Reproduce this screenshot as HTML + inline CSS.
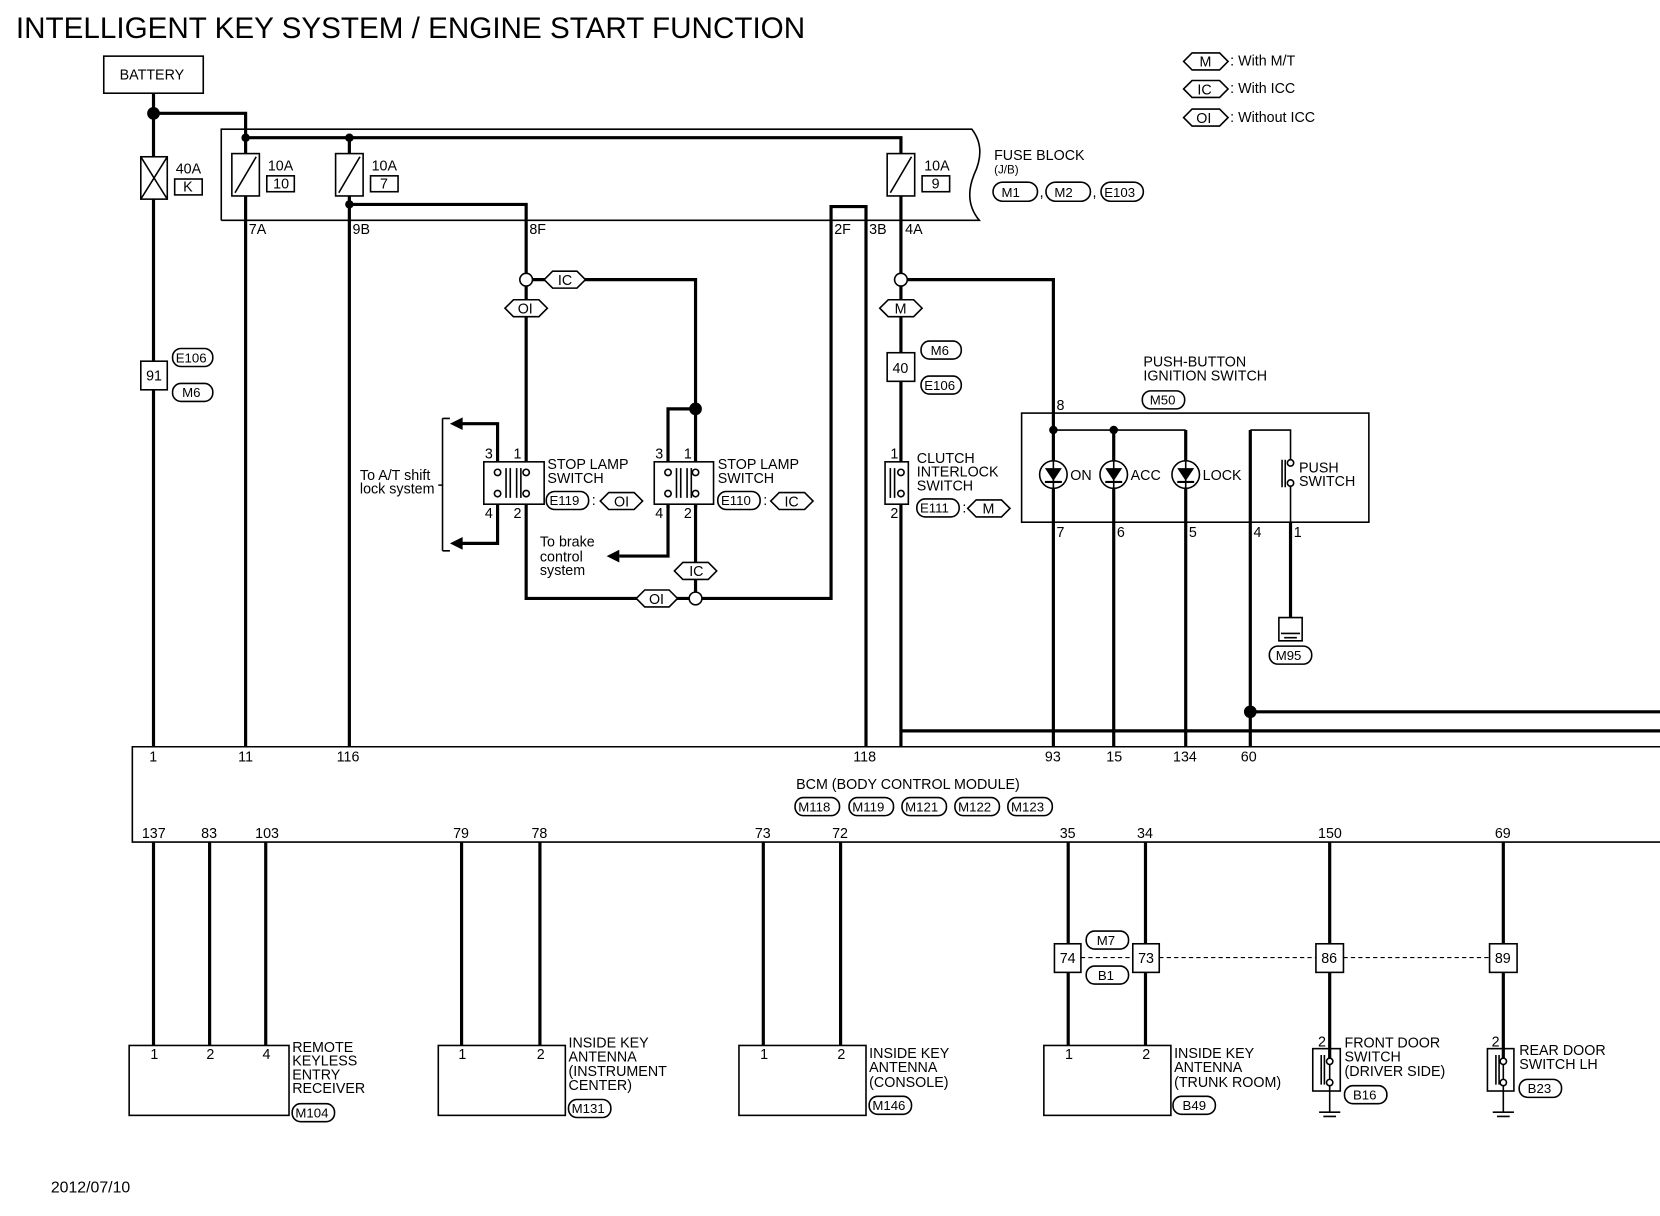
<!DOCTYPE html>
<html><head><meta charset="utf-8"><style>
html,body{margin:0;padding:0;background:#fff}
svg{display:block}
text{font-family:"Liberation Sans",sans-serif;fill:#000}
</style></head><body>
<svg width="1660" height="1216" viewBox="0 0 1568 1148" preserveAspectRatio="none" xmlns="http://www.w3.org/2000/svg">
<g font-size="13.5">
<text x="15" y="36" font-size="28">INTELLIGENT KEY SYSTEM / ENGINE START FUNCTION</text>
<!-- legend -->
<g stroke="#000" stroke-width="1.5" fill="none">
<polygon points="1118,58 1126,50 1152,50 1160,58 1152,66 1126,66"/>
<polygon points="1118,84 1126,76 1152,76 1160,84 1152,92 1126,92"/>
<polygon points="1118,111 1126,103 1152,103 1160,111 1152,119 1126,119"/>
</g>
<text x="1133" y="63">M</text><text x="1131" y="89">IC</text><text x="1130" y="116">OI</text>
<text x="1162" y="62">: With M/T</text><text x="1162" y="88">: With ICC</text><text x="1162" y="115">: Without ICC</text>

<!-- battery -->
<rect x="98" y="53" width="94" height="35" fill="none" stroke="#000" stroke-width="1.5"/>
<text x="113" y="75">BATTERY</text>

<g stroke="#000" stroke-width="3" fill="none">
<path d="M145,88 V705"/>
<path d="M145,107 H232 V130"/>
<path d="M232,130 V705"/>
<path d="M330,130 V705"/>
<path d="M232,130 H851 V705"/>
<path d="M330,193 H497 V565 H785 V195 H818 V705"/>
<path d="M503,264 H657 V480"/>
<path d="M657,386 H631 V480"/>
<path d="M657,476 V565"/>
<path d="M631,476 V525 H585"/>
<path d="M470,436 V400 H435"/>
<path d="M470,476 V513 H435"/>
<path d="M857,264 H995 V705"/>
<path d="M1052,406 V705"/>
<path d="M1120,406 V705"/>
<path d="M1181,406 V705"/>
<path d="M851,690 H1568"/>
<path d="M1181,672 H1568"/>
<path d="M1219,493 V583"/>
<path d="M145,795 V987 M198,795 V987 M251,795 V987"/>
<path d="M436,795 V987 M510,795 V987"/>
<path d="M721,795 V987 M794,795 V987"/>
<path d="M1009,795 V987 M1082,795 V987"/>
<path d="M1256,795 V1000 M1420,795 V1000"/>
</g>
<!-- arrows -->
<g fill="#000">
<polygon points="425,400 437,394 437,406"/>
<polygon points="425,513 437,507 437,519"/>
<polygon points="573,525 585,519 585,531"/>
<circle cx="145" cy="107" r="6"/>
<circle cx="232" cy="130" r="4"/><circle cx="330" cy="130" r="4"/><circle cx="330" cy="193" r="4"/>
<circle cx="657" cy="386" r="6"/>
<circle cx="995" cy="406" r="4"/><circle cx="1052" cy="406" r="4"/>
<circle cx="1181" cy="672" r="6"/>
</g>
<g stroke="#000" stroke-width="1.5" fill="#fff">
<circle cx="497" cy="264" r="6"/><circle cx="851" cy="264" r="6"/><circle cx="657" cy="565" r="6"/>
</g>
<!-- fuse block -->
<g stroke="#000" stroke-width="1.5" fill="none">
<path d="M209,208 V122 H918 Q932,140 920,165 Q910,190 925,208 H209"/>
<path d="M418,395 V520 M418,395 H425 M418,520 H425 M418,458 H414"/>
</g>
<g stroke="#000" stroke-width="1.5" fill="#fff">
<rect x="133" y="148" width="25" height="40"/>
<rect x="219" y="145" width="26" height="40"/>
<rect x="317" y="145" width="26" height="40"/>
<rect x="838" y="145" width="26" height="40"/>
<rect x="165" y="169" width="26" height="15"/><rect x="252" y="166" width="26" height="15"/><rect x="350" y="166" width="26" height="15"/><rect x="871" y="166" width="26" height="15"/>
</g>
<g stroke="#000" stroke-width="1.5">
<path d="M133,148 L158,188 M158,148 L133,188"/>
<path d="M222,182 L242,148 M320,182 L340,148 M841,182 L861,148"/>
</g>
<text x="166" y="164">40A</text><text x="173" y="181">K</text>
<text x="253" y="161">10A</text><text x="258" y="178">10</text>
<text x="351" y="161">10A</text><text x="359" y="178">7</text>
<text x="873" y="161">10A</text><text x="880" y="178">9</text>
<text x="939" y="151">FUSE BLOCK</text><text x="939" y="164" font-size="11">(J/B)</text>
<text x="235" y="221">7A</text><text x="333" y="221">9B</text><text x="500" y="221">8F</text>
<text x="788" y="221">2F</text><text x="821" y="221">3B</text><text x="855" y="221">4A</text>

<!-- pill connectors -->
<g stroke="#000" stroke-width="1.5" fill="none">
<rect x="938" y="172" width="42" height="18" rx="9"/><rect x="988" y="172" width="42" height="18" rx="9"/><rect x="1040" y="172" width="40" height="18" rx="9"/>
<rect x="163" y="329" width="38" height="17" rx="8"/><rect x="163" y="362" width="38" height="17" rx="8"/>
<rect x="870" y="322" width="38" height="17" rx="8"/><rect x="870" y="355" width="38" height="17" rx="8"/>
<rect x="516" y="464" width="40" height="17" rx="8"/><rect x="678" y="464" width="40" height="17" rx="8"/>
<rect x="866" y="471" width="40" height="17" rx="8"/>
<rect x="1079" y="369" width="40" height="17" rx="8"/>
<rect x="1199" y="610" width="40" height="17" rx="8"/>
<rect x="751" y="753" width="42" height="17" rx="8"/><rect x="802" y="753" width="42" height="17" rx="8"/><rect x="852" y="753" width="42" height="17" rx="8"/><rect x="902" y="753" width="42" height="17" rx="8"/><rect x="952" y="753" width="42" height="17" rx="8"/>
<rect x="1026" y="879" width="40" height="17" rx="8"/><rect x="1026" y="912" width="40" height="17" rx="8"/>
<rect x="276" y="1042" width="40" height="17" rx="8"/><rect x="537" y="1038" width="40" height="17" rx="8"/><rect x="821" y="1035" width="40" height="17" rx="8"/><rect x="1108" y="1035" width="40" height="17" rx="8"/>
<rect x="1270" y="1025" width="40" height="17" rx="8"/><rect x="1435" y="1019" width="40" height="17" rx="8"/>
</g>
<g font-size="12.5">
<text x="946" y="186">M1</text><text x="996" y="186">M2</text><text x="1043" y="186">E103</text>
<text x="166" y="342">E106</text><text x="172" y="375">M6</text>
<text x="879" y="335">M6</text><text x="873" y="368">E106</text>
<text x="519" y="477">E119</text><text x="681" y="477">E110</text><text x="869" y="484">E111</text>
<text x="1086" y="382">M50</text><text x="1205" y="623">M95</text>
<text x="754" y="766">M118</text><text x="805" y="766">M119</text><text x="855" y="766">M121</text><text x="905" y="766">M122</text><text x="955" y="766">M123</text>
<text x="1036" y="892">M7</text><text x="1037" y="925">B1</text>
<text x="279" y="1055">M104</text><text x="540" y="1051">M131</text><text x="824" y="1048">M146</text><text x="1117" y="1048">B49</text>
<text x="1278" y="1038">B16</text><text x="1443" y="1032">B23</text>
</g>
<text x="559" y="477">:</text><text x="721" y="477">:</text><text x="909" y="484">:</text>
<text x="982" y="186">,</text><text x="1032" y="186">,</text>
<!-- hex connectors -->
<g stroke="#000" stroke-width="1.5" fill="#fff">
<polygon points="514,264 522,256 545,256 553,264 545,272 522,272"/>
<polygon points="477,291 485,283 509,283 517,291 509,299 485,299"/>
<polygon points="831,291 839,283 863,283 871,291 863,299 839,299"/>
<polygon points="637,539 645,531 669,531 677,539 669,547 645,547"/>
<polygon points="601,565 609,557 632,557 640,565 632,573 609,573"/>
<polygon points="567,473 575,465 599,465 607,473 599,481 575,481"/>
<polygon points="728,473 736,465 760,465 768,473 760,481 736,481"/>
<polygon points="914,480 922,472 946,472 954,480 946,488 922,488"/>
</g>
<text x="527" y="269">IC</text><text x="489" y="296">OI</text><text x="845" y="296">M</text><text x="651" y="544">IC</text><text x="613" y="570">OI</text>
<text x="580" y="478">OI</text><text x="741" y="478">IC</text><text x="928" y="485">M</text>

<!-- number boxes -->
<g stroke="#000" stroke-width="1.5" fill="#fff">
<rect x="133" y="341" width="25" height="27"/><rect x="838" y="333" width="26" height="27"/>
<rect x="996" y="891" width="25" height="27"/><rect x="1070" y="891" width="25" height="27"/>
<rect x="1243" y="891" width="26" height="27"/><rect x="1407" y="891" width="26" height="27"/>
</g>
<text x="138" y="359">91</text><text x="843" y="352">40</text>
<text x="1001" y="909">74</text><text x="1075" y="909">73</text><text x="1248" y="909">86</text><text x="1412" y="909">89</text>
<path d="M1021,904 H1070 M1095,904 H1243 M1269,904 H1407" stroke="#000" stroke-width="1" stroke-dasharray="4,3"/>

<!-- stop lamp switches -->
<g stroke="#000" stroke-width="1.5" fill="#fff">
<rect x="457" y="436" width="57" height="40"/>
<rect x="618" y="436" width="56" height="40"/>
<rect x="836" y="436" width="22" height="40"/>
</g>
<g stroke="#000" stroke-width="1.5" fill="#fff">
<path d="M478,442 V470 M482,442 V470 M488,442 V470 M492,442 V470" />
<path d="M639,442 V470 M643,442 V470 M649,442 V470 M653,442 V470"/>
<path d="M841,442 V470 M845,442 V470"/>
<circle cx="470" cy="446" r="3"/><circle cx="470" cy="466" r="3"/><circle cx="497" cy="446" r="3"/><circle cx="497" cy="466" r="3"/>
<circle cx="631" cy="446" r="3"/><circle cx="631" cy="466" r="3"/><circle cx="657" cy="446" r="3"/><circle cx="657" cy="466" r="3"/>
<circle cx="851" cy="446" r="3"/><circle cx="851" cy="466" r="3"/>
</g>
<text x="458" y="433">3</text><text x="485" y="433">1</text><text x="458" y="489">4</text><text x="485" y="489">2</text>
<text x="619" y="433">3</text><text x="646" y="433">1</text><text x="619" y="489">4</text><text x="646" y="489">2</text>
<text x="841" y="433">1</text><text x="841" y="489">2</text>
<text x="517" y="443">STOP LAMP</text><text x="517" y="456">SWITCH</text>
<text x="678" y="443">STOP LAMP</text><text x="678" y="456">SWITCH</text>
<text x="866" y="437">CLUTCH</text><text x="866" y="450">INTERLOCK</text><text x="866" y="463">SWITCH</text>
<text x="340" y="453">To A/T shift</text><text x="340" y="466">lock system</text>
<text x="510" y="516">To brake</text><text x="510" y="530">control</text><text x="510" y="543">system</text>

<!-- push button ignition -->
<text x="1080" y="346">PUSH-BUTTON</text><text x="1080" y="359">IGNITION SWITCH</text>
<g stroke="#000" stroke-width="1.5" fill="none">
<rect x="965" y="390" width="328" height="103"/>
<path d="M995,406 H1120 M1181,406 H1219 V434 M1219,456 V493"/>
<path d="M1211,434 V460 M1214,434 V460"/>
<circle cx="1219" cy="437" r="3" fill="#fff"/><circle cx="1219" cy="456" r="3" fill="#fff"/>
<circle cx="995" cy="448" r="13" fill="#fff"/><circle cx="1052" cy="448" r="13" fill="#fff"/><circle cx="1120" cy="448" r="13" fill="#fff"/>
<path d="M995,435 V461 M1052,435 V461 M1120,435 V461"/>
<path d="M1208,583 H1230 V605 H1208 Z"/>
<path d="M1210,598 H1228 M1213,602 H1225"/>
</g>
<g fill="#000">
<polygon points="987,442 1003,442 995,454"/><rect x="987" y="454" width="16" height="2"/>
<polygon points="1044,442 1060,442 1052,454"/><rect x="1044" y="454" width="16" height="2"/>
<polygon points="1112,442 1128,442 1120,454"/><rect x="1112" y="454" width="16" height="2"/>
</g>
<text x="1011" y="453">ON</text><text x="1068" y="453">ACC</text><text x="1136" y="453">LOCK</text>
<text x="1227" y="446">PUSH</text><text x="1227" y="459">SWITCH</text>
<text x="998" y="387">8</text><text x="998" y="507">7</text><text x="1055" y="507">6</text><text x="1123" y="507">5</text><text x="1184" y="507">4</text><text x="1222" y="507">1</text>

<!-- BCM -->
<path d="M1568,705 H125 V795 H1568" stroke="#000" stroke-width="1.5" fill="none"/>
<text x="141" y="719">1</text><text x="225" y="719">11</text><text x="318" y="719">116</text><text x="806" y="719">118</text>
<text x="987" y="719">93</text><text x="1045" y="719">15</text><text x="1108" y="719">134</text><text x="1172" y="719">60</text>
<text x="752" y="745">BCM (BODY CONTROL MODULE)</text>
<text x="134" y="791">137</text><text x="190" y="791">83</text><text x="241" y="791">103</text><text x="428" y="791">79</text><text x="502" y="791">78</text>
<text x="713" y="791">73</text><text x="786" y="791">72</text><text x="1001" y="791">35</text><text x="1074" y="791">34</text><text x="1245" y="791">150</text><text x="1412" y="791">69</text>

<!-- bottom components -->
<g stroke="#000" stroke-width="1.5" fill="none">
<rect x="122" y="987" width="151" height="66"/>
<rect x="414" y="987" width="120" height="66"/>
<rect x="698" y="987" width="120" height="66"/>
<rect x="986" y="987" width="120" height="66"/>
<rect x="1240" y="990" width="26" height="40"/>
<rect x="1405" y="990" width="25" height="40"/>
<path d="M1248,996 V1024 M1251,996 V1024 M1413,996 V1024 M1416,996 V1024"/>
<path d="M1256,1000 V1050 M1420,1000 V1050"/>
<path d="M1246,1050 H1266 M1250,1054 H1262 M1410,1050 H1430 M1414,1054 H1426"/>
<circle cx="1256" cy="1002" r="3" fill="#fff"/><circle cx="1256" cy="1022" r="3" fill="#fff"/>
<circle cx="1420" cy="1002" r="3" fill="#fff"/><circle cx="1420" cy="1022" r="3" fill="#fff"/>
</g>
<text x="142" y="1000">1</text><text x="195" y="1000">2</text><text x="248" y="1000">4</text>
<text x="433" y="1000">1</text><text x="507" y="1000">2</text><text x="718" y="1000">1</text><text x="791" y="1000">2</text>
<text x="1006" y="1000">1</text><text x="1079" y="1000">2</text><text x="1245" y="988">2</text><text x="1409" y="988">2</text>
<text x="276" y="993">REMOTE</text><text x="276" y="1006">KEYLESS</text><text x="276" y="1019">ENTRY</text><text x="276" y="1032">RECEIVER</text>
<text x="537" y="989">INSIDE KEY</text><text x="537" y="1002">ANTENNA</text><text x="537" y="1016">(INSTRUMENT</text><text x="537" y="1029">CENTER)</text>
<text x="821" y="999">INSIDE KEY</text><text x="821" y="1012">ANTENNA</text><text x="821" y="1026">(CONSOLE)</text>
<text x="1109" y="999">INSIDE KEY</text><text x="1109" y="1012">ANTENNA</text><text x="1109" y="1026">(TRUNK ROOM)</text>
<text x="1270" y="989">FRONT DOOR</text><text x="1270" y="1002">SWITCH</text><text x="1270" y="1016">(DRIVER SIDE)</text>
<text x="1435" y="996">REAR DOOR</text><text x="1435" y="1009">SWITCH LH</text>
<text x="48" y="1126" font-size="15">2012/07/10</text>
</g>
</svg>
</body></html>
